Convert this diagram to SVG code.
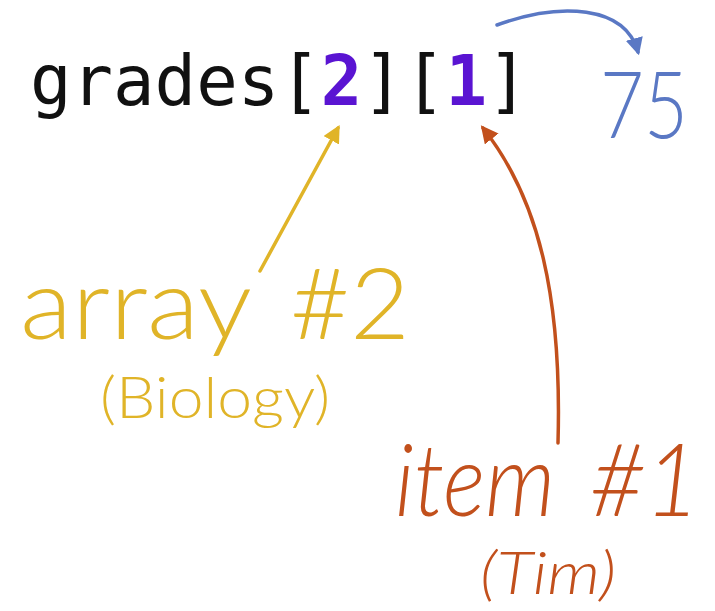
<svg xmlns="http://www.w3.org/2000/svg" width="715" height="611" viewBox="0 0 715 611">
<style>
.code{font-family:"DejaVu Sans Mono","Liberation Mono",monospace;font-size:69px;fill:#111}
.idx{fill:#5a14d2;font-weight:bold}
.hand{font-family:"Lato","Open Sans",sans-serif;font-weight:300}
.it{font-style:italic}
.y{fill:#e0b428}
.o{fill:#c2501c}
.b{fill:#5a78c4}
</style>
<defs>
<marker id="ay" viewBox="0 0 10 10" refX="8" refY="5" markerWidth="5" markerHeight="5" orient="auto"><path d="M0,0L10,5L0,10z" fill="#e0b428"/></marker>
<marker id="ao" viewBox="0 0 10 10" refX="8" refY="5" markerWidth="5" markerHeight="5" orient="auto"><path d="M0,0L10,5L0,10z" fill="#c2501c"/></marker>
<marker id="ab" viewBox="0 0 10 10" refX="8" refY="5" markerWidth="5" markerHeight="5" orient="auto"><path d="M0,0L10,5L0,10z" fill="#5a78c4"/></marker>
</defs>
<rect width="715" height="611" fill="#fff"/>
<g id="expr"><text class="code" x="30" y="105">grades[<tspan class="idx">2</tspan>][<tspan class="idx">1</tspan>]</text></g>
<g id="value"><text class="hand b" x="600" y="138" font-size="92" textLength="88" lengthAdjust="spacingAndGlyphs">75</text></g>
<g id="array"><text class="hand y" x="20" y="339" font-size="98" textLength="232" lengthAdjust="spacingAndGlyphs">array</text>
<text class="hand y" x="290" y="339" font-size="98" textLength="120" lengthAdjust="spacingAndGlyphs">#2</text>
<text class="hand y" x="100" y="418" font-size="58" textLength="230" lengthAdjust="spacingAndGlyphs">(Biology)</text></g>
<g id="item"><text class="hand o it" x="395" y="516" font-size="100" textLength="160" lengthAdjust="spacingAndGlyphs">item</text>
<text class="hand o it" x="590" y="516" font-size="100" textLength="110" lengthAdjust="spacingAndGlyphs">#1</text>
<text class="hand o it" x="480" y="594" font-size="60" textLength="136" lengthAdjust="spacingAndGlyphs">(Tim)</text></g>
<g id="connectors" fill="none" stroke-width="3.5" stroke-linecap="round">
<path d="M260,271L338,128" stroke="#e0b428" marker-end="url(#ay)"/>
<path d="M558,443C562,300 540,200 483,128" stroke="#c2501c" marker-end="url(#ao)"/>
<path d="M497,25C560,2 625,5 638,52" stroke="#5a78c4" marker-end="url(#ab)"/>
</g>
</svg>
